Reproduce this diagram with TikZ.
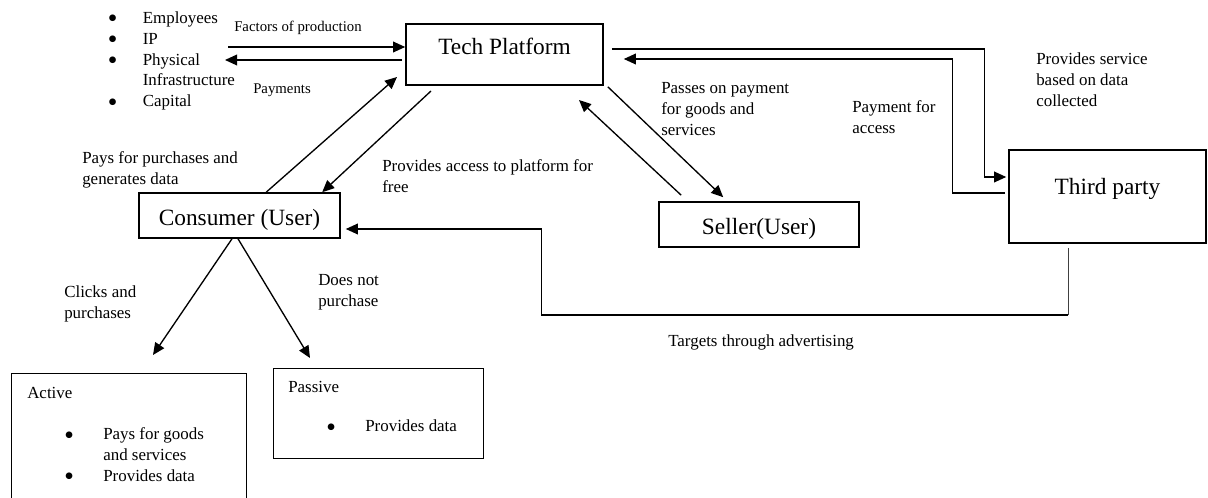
\documentclass[tikz,border=0pt]{standalone}
\usepackage{fontspec}
\setmainfont{Liberation Serif}
\newfontfamily\dejavu{DejaVu Sans}
\usetikzlibrary{arrows.meta,calc}
\newcommand{\bigdot}{\raisebox{1.8pt}{\dejavu\fontsize{6.5}{6.5}\selectfont ●}}
\newcommand{\bulA}{\makebox[25.5pt][l]{\bigdot}}
\newcommand{\bulB}{\makebox[28.5pt][l]{\bigdot}}
\begin{document}
\begin{tikzpicture}[x=0.75pt,y=-0.75pt,
  box/.style={draw,line width=1.2pt,inner sep=0pt,font=\fontsize{17.5}{21}\selectfont},
  thinbox/.style={draw,line width=0.8pt,inner sep=0pt},
  arr/.style={line width=1pt,-{Triangle[length=9pt,width=8pt]}},
  lbl/.style={anchor=west,inner sep=0pt,align=left,font=\fontsize{12.7}{15.7}\selectfont},
  slbl/.style={anchor=west,inner sep=0pt,align=left,font=\fontsize{11.1}{14}\selectfont}]
\useasboundingbox (0,0) rectangle (1208,498);

% boxes
\node[box,minimum width=147.75pt,minimum height=45.75pt,text height=0.75pt,text depth=0pt] (tech) at (504.5,54.5) {Tech Platform};
\node[box,minimum width=150.75pt,minimum height=33.75pt,text height=15.75pt,text depth=0pt] (consumer) at (239.5,215.5) {Consumer (User)};
\node[box,minimum width=150pt,minimum height=33.75pt,text height=14.7pt,text depth=0pt] (seller) at (759,224.5) {Seller(User)};
\node[box,minimum width=147.75pt,minimum height=69.75pt,text height=0pt,text depth=2.25pt] (third) at (1107.5,196.5) {Third party};
\node[thinbox,anchor=north west,minimum width=176.25pt,minimum height=112.5pt] (active) at (11,373) {};
\node[thinbox,anchor=north west,minimum width=157.5pt,minimum height=67.5pt] (passive) at (273,368) {};

% texts
\node[lbl] (factors) at (108.5,61) {\bulA Employees\\ \bulA IP\\ \bulA Physical\\ \hspace*{25.5pt}Infrastructure\\ \bulA Capital};
\node[slbl] (lfp) at (234,27.5) {Factors of production};
\node[slbl] (lpay) at (253,90) {Payments};
\node[lbl] (lpays) at (82,169.5) {Pays for purchases and\\generates data};
\node[lbl] (lprov) at (382,176.5) {Provides access to platform for\\free};
\node[lbl] (lpass) at (661,109) {Passes on payment\\for goods and\\services};
\node[lbl] (lpfa) at (852,117.5) {Payment for\\access};
\node[lbl] (lserv) at (1036,79.5) {Provides service\\based on data\\collected};
\node[lbl] (lclick) at (64,304) {Clicks and\\purchases};
\node[lbl] (lnot) at (318,292) {Does not\\purchase};
\node[lbl] (ltarg) at (668,342) {Targets through advertising};
\node[lbl] (tactive) at (27,393) {Active};
\node[lbl] (lactive) at (65,454.5) {\bulB Pays for goods\\ \hspace*{28.5pt}and services\\ \bulB Provides data};
\node[lbl] (tpassive) at (288,387) {Passive};
\node[lbl] (lpassive) at (327,426) {\bulB Provides data};

% free ends
\coordinate (fpS) at (228,47);
\coordinate (payE) at (225,60);
\coordinate (c2tE) at (397,77);
\coordinate (t2cS) at (431,91);
\coordinate (s2tE) at (579,100);
\coordinate (actE) at (153,355);
\coordinate (pasE) at (310,358);
\coordinate (targS) at ($(third.south)+(-39.5,4)$);
\coordinate (targC) at ($(consumer.east)+(201,99.5)$);

% connectors
\draw[arr] (fpS) -- (fpS -| tech.west);
\draw[arr] ($(payE -| tech.west)+(-3,0)$) -- (payE);
\draw[arr] ($(consumer.north west)+(128,0)$) -- (c2tE);
\draw[arr] (t2cS) -- ($(consumer.north west)+(184,0)$);
\draw[arr] ($(tech.south east)+(4,1)$) -- ($(seller.north west)+(65,-4)$);
\draw[arr] ($(seller.north west)+(23,-6)$) -- (s2tE);
\draw[arr] ($(tech.east)+(8,-5.5)$) -| ($(third.west)+(-24,-19.5)$) -- ($(third.west)+(-2,-19.5)$);
\draw[arr] ($(third.west)+(-3,-3.5)$) -| ($(tech.east)+(349,4.5)$) -- ($(tech.east)+(20,4.5)$);
\draw[line width=0.6pt,black!75] (targS) -- (targS |- targC);
\draw[arr] (targS |- targC) -- (targC) |- ($(consumer.east)+(5,13.5)$);
\draw[arr] ($(consumer.south)+(-7.5,0)$) -- (actE);
\draw[arr] ($(consumer.south)+(-1.5,0)$) -- (pasE);
\end{tikzpicture}
\end{document}
